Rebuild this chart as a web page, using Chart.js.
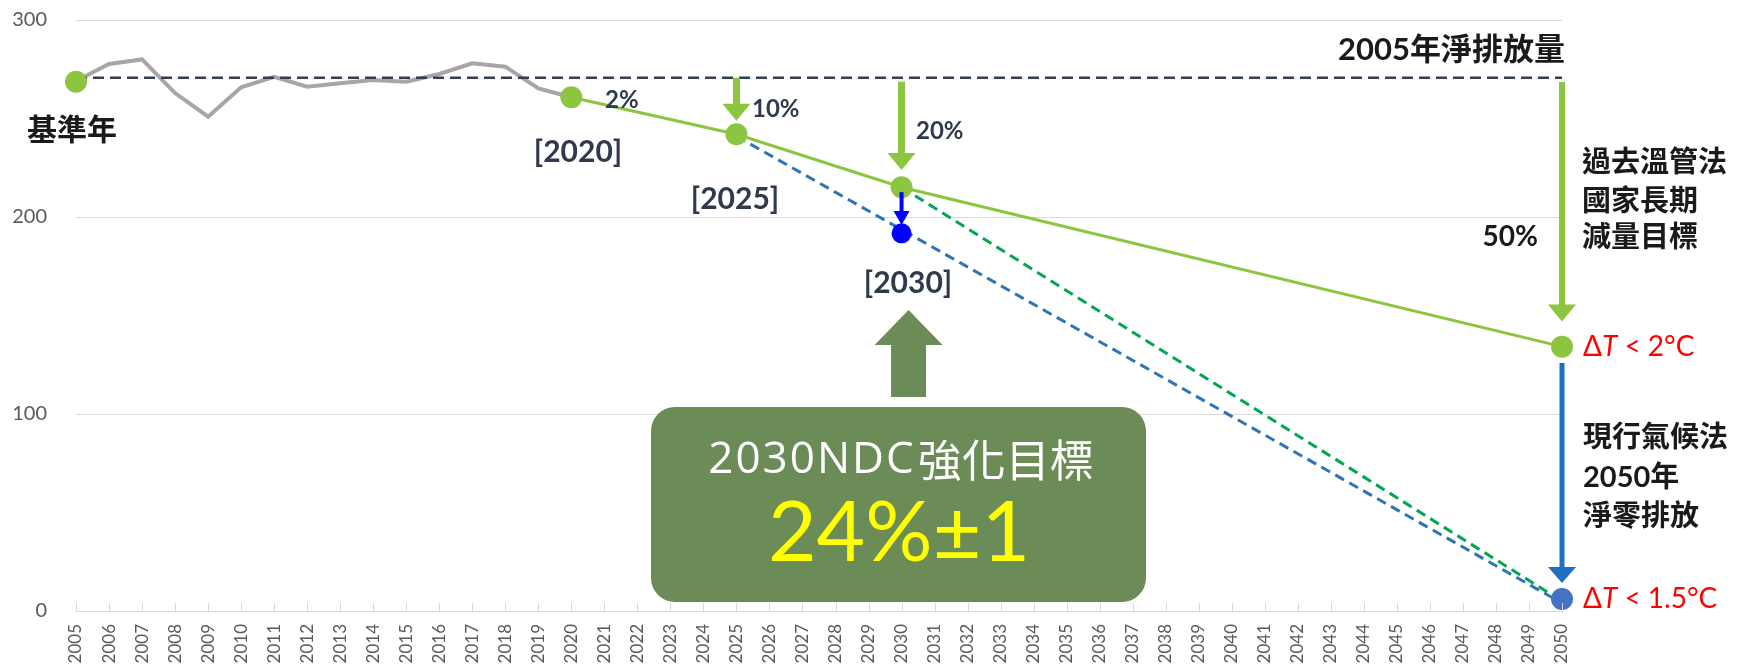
<!DOCTYPE html>
<html>
<head>
<meta charset="utf-8">
<script src="https://cdn.jsdelivr.net/npm/chart.js@4.4.0/dist/chart.umd.min.js"></script>
<style>
  html, body { margin: 0; padding: 0; background: #fff; }
  #wrap { width: 1739px; height: 665px; position: relative; }
</style>
</head>
<body>
<div id="wrap"><canvas id="chart"></canvas></div>
<script>
// categories
const years = ['2005','2006','2007','2008','2009','2010','2011','2012','2013','2014',
  '2015','2016','2017','2018','2019','2020','2021','2022','2023','2024','2025','2026',
  '2027','2028','2029','2030','2031','2032','2033','2034','2035','2036','2037','2038',
  '2039','2040','2041','2042','2043','2044','2045','2046','2047','2048','2049','2050'];
const yTicks = [0, 100, 200, 300];

// historical net emissions (grey)
const historyYears = ['2005','2006','2007','2008','2009','2010','2011','2012','2013',
  '2014','2015','2016','2017','2018','2019','2020'];
const historyValues = [269, 277.7, 280, 262.9, 250.9, 265.8, 271.2, 266.1, 267.9,
  269.5, 268.7, 272.6, 278, 276.3, 265.3, 260.8];

// 2005 net emission level (dashed)
const baselineYears = ['2005', '2050'];
const baselineValues = [270.7, 270.7];

// old law long-term target path (solid green)
const oldPathYears = ['2020', '2025', '2030', '2050'];
const oldPathValues = [260.8, 242, 215.1, 134.2];

// green milestone dots
const milestoneYears = ['2005', '2020', '2025', '2030', '2050'];
const milestoneValues = [268.7, 260.8, 242, 215.1, 134.2];

// net zero paths (dashed)
const netZeroBlueYears = ['2025', '2050'];
const netZeroBlueValues = [241, 4];
const netZeroGreenYears = ['2030', '2050'];
const netZeroGreenValues = [215.1, 5];

// enhanced NDC points (blue)
const ndcYears = ['2030', '2050'];
const ndcValues = [191.7, 6.1];

const GREEN = '#8cc540';
const F = 'Lato, "Noto Sans CJK TC", sans-serif';

function pairs(xs, ys) {
  return xs.map((x, i) => ({ x: x, y: ys[i] }));
}

const arrows = [
  { year: '2025', from: 270.7, to: 248.9, color: GREEN, shaft: 7, headW: 28, headL: 17 },
  { year: '2030', from: 268.7, to: 223.9, color: GREEN, shaft: 7, headW: 28, headL: 17 },
  { year: '2050', from: 268.5, to: 146.9, color: GREEN, shaft: 6, headW: 28, headL: 17 },
  { year: '2030', from: 212.6, to: 196, color: '#0000ff', shaft: 4, headW: 16, headL: 14 },
  { year: '2050', from: 125.9, to: 14.2, color: '#1f6fc5', shaft: 5, headW: 28, headL: 16 }
];

const texts = [
  { t: '基準年', x: 27, y: 130, size: 30, weight: 'bold', color: '#1a1a1a', align: 'left' },
  { t: '2%', x: 605, y: 100, size: 24, weight: 'bold', color: '#2f3a4d', align: 'left' },
  { t: '10%', x: 752, y: 109, size: 24, weight: 'bold', color: '#2f3a4d', align: 'left' },
  { t: '20%', x: 916, y: 131, size: 24, weight: 'bold', color: '#2f3a4d', align: 'left' },
  { t: '[2020]', x: 578, y: 152, size: 30, weight: 'bold', color: '#2f3a4d', align: 'center' },
  { t: '[2025]', x: 735, y: 199, size: 30, weight: 'bold', color: '#2f3a4d', align: 'center' },
  { t: '[2030]', x: 908, y: 283, size: 30, weight: 'bold', color: '#2f3a4d', align: 'center' },
  { t: '2005年淨排放量', x: 1565, y: 50, size: 31, weight: 'bold', color: '#1a1a1a', align: 'right' },
  { t: '過去溫管法', x: 1582, y: 163, size: 29, weight: 'bold', color: '#1a1a1a', align: 'left' },
  { t: '國家長期', x: 1582, y: 202, size: 29, weight: 'bold', color: '#1a1a1a', align: 'left' },
  { t: '減量目標', x: 1582, y: 238, size: 29, weight: 'bold', color: '#1a1a1a', align: 'left' },
  { t: '50%', x: 1538, y: 237, size: 28, weight: 'bold', color: '#1a1a1a', align: 'right' },
  { t: '現行氣候法', x: 1583, y: 438, size: 29, weight: 'bold', color: '#1a1a1a', align: 'left' },
  { t: '2050年', x: 1583, y: 478, size: 29, weight: 'bold', color: '#1a1a1a', align: 'left' },
  { t: '淨零排放', x: 1583, y: 517, size: 29, weight: 'bold', color: '#1a1a1a', align: 'left' },
  { t: '24%±1', x: 899, y: 534, size: 84, weight: 'normal', color: '#ffff00', align: 'center' }
];

function drawText(ctx, o) {
  ctx.font = o.weight + ' ' + o.size + 'px ' + F;
  ctx.fillStyle = o.color;
  ctx.textAlign = o.align;
  ctx.textBaseline = 'middle';
  ctx.fillText(o.t, o.x, o.y);
}

function drawDeltaT(ctx, x, y, rest) {
  const parts = [['Δ', 'normal'], ['T', 'italic'], [' < ' + rest, 'normal']];
  ctx.fillStyle = '#ff0000';
  ctx.textAlign = 'left';
  ctx.textBaseline = 'middle';
  parts.forEach(p => {
    ctx.font = p[1] + ' 28px ' + F;
    ctx.fillText(p[0], x, y);
    x += ctx.measureText(p[0]).width;
  });
}

// box title: latin part in a wider face, then the CJK part
function drawBoxTitle(ctx, cx, y) {
  ctx.fillStyle = '#ffffff';
  ctx.textAlign = 'left';
  ctx.textBaseline = 'middle';
  const latinFont = 'normal 44px "Open Sans", sans-serif';
  const cjkFont = 'normal 44px "Noto Sans CJK TC", sans-serif';
  ctx.font = latinFont;
  ctx.letterSpacing = '2px';
  const w1 = ctx.measureText('2030NDC').width;
  ctx.letterSpacing = '0px';
  ctx.font = cjkFont;
  const w2 = ctx.measureText('強化目標').width;
  const x = cx - (w1 + w2) / 2;
  ctx.font = latinFont;
  ctx.letterSpacing = '2px';
  ctx.fillText('2030NDC', x, y);
  ctx.letterSpacing = '0px';
  ctx.font = cjkFont;
  ctx.fillText('強化目標', x + w1 + 2, y);
}

const overlay = {
  id: 'overlay',
  afterDatasetsDraw(chart) {
    const ctx = chart.ctx;
    const xs = chart.scales.x, ys = chart.scales.y;
    const area = chart.chartArea;
    ctx.save();

    // small upward ticks on the category axis
    ctx.strokeStyle = '#d9d9d9';
    ctx.lineWidth = 1;
    xs.ticks.forEach((t, i) => {
      const px = Math.round(xs.getPixelForTick(i)) + 0.5;
      ctx.beginPath();
      ctx.moveTo(px, area.bottom);
      ctx.lineTo(px, area.bottom - 8);
      ctx.stroke();
    });

    // reduction arrows
    arrows.forEach(a => {
      const px = xs.getPixelForValue(years.indexOf(a.year));
      const y0 = ys.getPixelForValue(a.from);
      const tip = ys.getPixelForValue(a.to);
      ctx.fillStyle = a.color;
      ctx.fillRect(px - a.shaft / 2, y0, a.shaft, tip - a.headL - y0 + 1);
      ctx.beginPath();
      ctx.moveTo(px - a.headW / 2, tip - a.headL);
      ctx.lineTo(px + a.headW / 2, tip - a.headL);
      ctx.lineTo(px, tip);
      ctx.closePath();
      ctx.fill();
    });

    // big up arrow + NDC box
    const bx = xs.getPixelForValue(years.indexOf('2030')) + 7;
    ctx.fillStyle = '#6b8c57';
    ctx.fillRect(bx - 17.5, 344, 35, 53);
    ctx.beginPath();
    ctx.moveTo(bx - 34, 345);
    ctx.lineTo(bx + 34, 345);
    ctx.lineTo(bx, 310);
    ctx.closePath();
    ctx.fill();
    ctx.beginPath();
    ctx.roundRect(651, 407, 495, 195, 24);
    ctx.fill();

    texts.forEach(o => drawText(ctx, o));
    drawBoxTitle(ctx, 900, 460);
    drawDeltaT(ctx, 1583, 347, '2°C');
    drawDeltaT(ctx, 1583, 599, '1.5°C');
    ctx.restore();
  }
};

new Chart(document.getElementById('chart'), {
  type: 'line',
  data: {
    labels: years,
    datasets: [
      {
        label: 'ndc', data: pairs(ndcYears, ndcValues), showLine: false,
        pointRadius: [10, 11], pointBackgroundColor: ['#0000ff', '#4472c4'],
        pointBorderWidth: 0, order: 1
      },
      {
        label: 'milestones', data: pairs(milestoneYears, milestoneValues), showLine: false,
        pointRadius: 11, pointBackgroundColor: GREEN, pointBorderWidth: 0, order: 2
      },
      {
        label: 'old path', data: pairs(oldPathYears, oldPathValues),
        borderColor: GREEN, borderWidth: 3, pointRadius: 0, order: 3
      },
      {
        label: 'net zero green', data: pairs(netZeroGreenYears, netZeroGreenValues),
        borderColor: '#00a651', borderWidth: 3, borderDash: [10, 6], pointRadius: 0, order: 4
      },
      {
        label: 'net zero blue', data: pairs(netZeroBlueYears, netZeroBlueValues),
        borderColor: '#2e75b6', borderWidth: 3, borderDash: [10, 6], pointRadius: 0, order: 5
      },
      {
        label: 'baseline', data: pairs(baselineYears, baselineValues),
        borderColor: '#333f50', borderWidth: 2.5, borderDash: [11, 6], pointRadius: 0, order: 6
      },
      {
        label: 'history', data: pairs(historyYears, historyValues),
        borderColor: '#a6a6a6', borderWidth: 4, pointRadius: 0, order: 7
      }
    ]
  },
  options: {
    responsive: true,
    maintainAspectRatio: false,
    animation: false,
    layout: { autoPadding: false, padding: { top: 0, right: 177, left: 0, bottom: 0 } },
    elements: { line: { tension: 0 } },
    plugins: { legend: { display: false }, tooltip: { enabled: false } },
    scales: {
      x: {
        offset: false,
        grid: { display: false, drawTicks: false },
        border: { display: true, color: '#d9d9d9', width: 1 },
        ticks: {
          autoSkip: false, maxRotation: 90, minRotation: 90, padding: 13,
          color: '#595959', font: { family: F, size: 17 }
        },
        afterFit: function(scale) {
          scale.height = 54;
          scale.paddingLeft = 0; scale.paddingRight = 0;
        }
      },
      y: {
        min: 0, max: 300,
        grid: { color: '#d9d9d9', lineWidth: 1, drawTicks: false },
        border: { display: false },
        afterBuildTicks: function(scale) { scale.ticks = yTicks.map(v => ({ value: v })); },
        ticks: { padding: 29, color: '#595959', font: { family: F, size: 20 } },
        afterFit: function(scale) {
          scale.width = 76;
          scale.paddingTop = 20; scale.paddingBottom = 0;
        }
      }
    }
  },
  plugins: [overlay]
});
</script>
</body>
</html>
